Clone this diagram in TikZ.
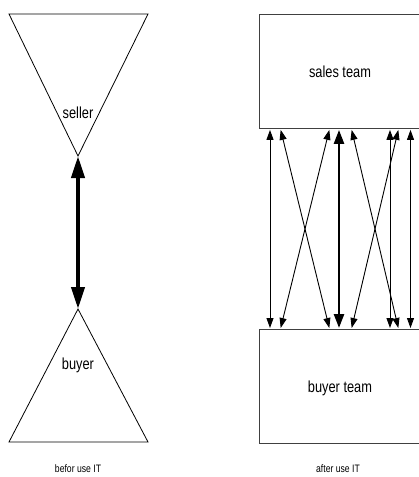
\documentclass[tikz,border=0pt]{standalone}
\usepackage{fontspec}
\setmainfont{Liberation Sans}
\newfontfamily\narrowsans[FakeStretch=0.8]{Liberation Sans}
\usetikzlibrary{arrows.meta,calc}

\tikzset{
  outline/.style={draw=black, line width=0.8pt},
  label/.style={font=\narrowsans\fontsize{16}{19}\selectfont, inner sep=0pt},
  caption/.style={font=\narrowsans\fontsize{10.8}{13}\selectfont, inner sep=0pt},
  team/.style={draw=black!75, line width=0.9pt, rectangle, minimum width=162pt, minimum height=114pt, anchor=north west, inner sep=0pt},
  link/.style={line width=0.9pt, {Triangle[length=10pt,width=7pt]}-{Triangle[length=10pt,width=7pt]}},
  mainlink/.style={line width=2.5pt, {Triangle[length=14pt,width=10pt]}-{Triangle[length=14pt,width=10pt]}},
  biglink/.style={line width=4pt, {Triangle[length=22pt,width=13pt]}-{Triangle[length=22pt,width=13pt]}}
}

\begin{document}
\begin{tikzpicture}[x=1pt, y=-1pt]
  \useasboundingbox (0,0) rectangle (419,477);

  % ---- before: two facing triangles ----
  \coordinate (sellerTip) at (78,156);
  \coordinate (buyerTip) at (78,309);
  \draw[outline] (9,14) -- (148,14) -- (sellerTip) -- cycle;
  \draw[outline] (buyerTip) -- (148,442) -- (9,442) -- cycle;
  \node[label] (seller) at (78,113) {seller};
  \node[label] (buyer) at (78,365) {buyer};
  \draw[biglink] (sellerTip) -- (buyerTip);
  \node[caption] (before) at (78,469) {befor use IT};

  % ---- after: two teams with many links ----
  \begin{scope}
    \clip (0,0) rectangle (419,477);
    \node[team] (sales) at (259,14) {};
    \node[team] (buyers) at (259,329) {};
  \end{scope}
  \node[label] (salesText) at (340,72) {sales team};
  \node[label] (buyersText) at (340,388) {buyer team};
  \node[caption] (after) at (338,469) {after use IT};

  \foreach \a/\b in {11/11, 21.7/70.3, 70.3/21.7, 92.7/139.3, 139.3/92.7, 131/131, 151.5/151.5}{
    \draw[link] ($(sales.south west)+(\a,1)$) -- ($(buyers.north west)+(\b,-1)$);
  }
  \draw[mainlink] ($(sales.south west)+(80,1)$) -- ($(buyers.north west)+(80,-1)$);
\end{tikzpicture}
\end{document}
